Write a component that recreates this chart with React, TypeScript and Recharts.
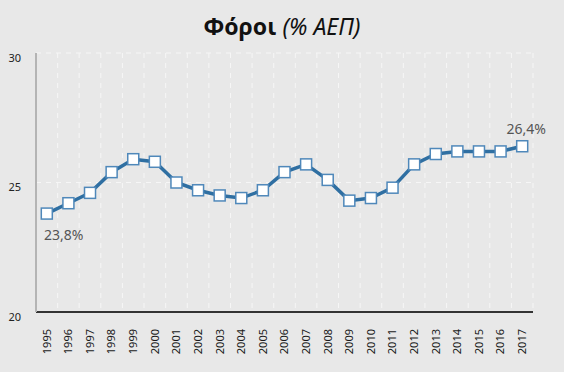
import { LineChart, Line, XAxis, YAxis, CartesianGrid } from "recharts"

const years = [
  "1995", "1996", "1997", "1998", "1999", "2000", "2001", "2002", "2003", "2004", "2005", "2006",
  "2007", "2008", "2009", "2010", "2011", "2012", "2013", "2014", "2015", "2016", "2017",
]
const taxes = [
  23.8, 24.2, 24.6, 25.4, 25.9, 25.8, 25.0, 24.7, 24.5, 24.4, 24.7, 25.4,
  25.7, 25.1, 24.3, 24.4, 24.8, 25.7, 26.1, 26.2, 26.2, 26.2, 26.4,
]
const yTicks = [20, 25, 30]

const data = years.map((year, idx) => ({ idx, year, value: taxes[idx] }))
const xTicks = data.map((d) => d.idx)

const W = 564
const H = 372
const FONT = "'Noto Sans', 'DejaVu Sans', sans-serif"

const fmt = (v: number) => `${v.toFixed(1).replace(".", ",")}%`

function Square(props: any) {
  const { cx, cy } = props
  if (cx == null || cy == null) return null
  return (
    <rect x={cx - 5.5} y={cy - 5.5} width={11} height={11} fill="#ffffff" stroke="#4f88ba" strokeWidth={1.5} />
  )
}

function EndLabel(props: any) {
  const { x, y, index, value } = props
  if (index === 0) {
    return (
      <text x={x + 17} y={y + 26} textAnchor="middle" fontSize={14} fill="#555" fontFamily={FONT}>
        {fmt(value)}
      </text>
    )
  }
  if (index === data.length - 1) {
    return (
      <text x={x + 4} y={y - 12} textAnchor="middle" fontSize={14} fill="#555" fontFamily={FONT}>
        {fmt(value)}
      </text>
    )
  }
  return null
}

function YearTick(props: any) {
  const { x, y, payload } = props
  return (
    <text
      transform={`translate(${x},${y + 9}) rotate(-90)`}
      textAnchor="end"
      dy="0.35em"
      fontSize={11}
      fill="#1a1a1a"
      fontFamily={FONT}
    >
      {years[payload.value]}
    </text>
  )
}

function ValueTick(props: any) {
  const { x, y, payload } = props
  return (
    <text x={x - 7} y={y + 5} dy="0.35em" textAnchor="end" fontSize={11} fill="#222" fontFamily={FONT}>
      {payload.value}
    </text>
  )
}

export default function App() {
  return (
    <div style={{ position: "absolute", top: 0, left: 0, width: W, height: H, background: "#e8e8e8" }}>
      <div
        style={{
          position: "absolute",
          top: 10,
          left: 0,
          width: W,
          textAlign: "center",
          fontFamily: FONT,
          fontSize: 23,
          color: "#111",
        }}
      >
        <span style={{ fontWeight: 700 }}>Φόροι</span>{" "}
        <span style={{ fontStyle: "italic" }}>(% ΑΕΠ)</span>
      </div>
      <LineChart width={W} height={H} data={data} margin={{ top: 53, right: 31, left: 0, bottom: 0 }}>
        <CartesianGrid
          stroke="#f6f6f6"
          strokeDasharray="5 5"
          verticalCoordinatesGenerator={({ offset }: any) =>
            Array.from({ length: years.length + 1 }, (_, i) => offset.left + (i * offset.width) / years.length)
          }
        />
        <XAxis
          type="number"
          dataKey="idx"
          domain={[-0.5, years.length - 0.5]}
          ticks={xTicks}
          interval={0}
          height={60}
          tick={<YearTick />}
          tickLine={false}
          axisLine={{ stroke: "#333", strokeWidth: 2 }}
        />
        <YAxis
          domain={[20, 30]}
          ticks={yTicks}
          width={36}
          tick={<ValueTick />}
          tickLine={false}
          axisLine={{ stroke: "#b4b4b4", strokeWidth: 2 }}
        />
        <Line
          type="linear"
          dataKey="value"
          stroke="#2f6fa2"
          strokeWidth={3.5}
          dot={<Square />}
          activeDot={false}
          label={<EndLabel />}
          isAnimationActive={false}
        />
      </LineChart>
    </div>
  )
}
